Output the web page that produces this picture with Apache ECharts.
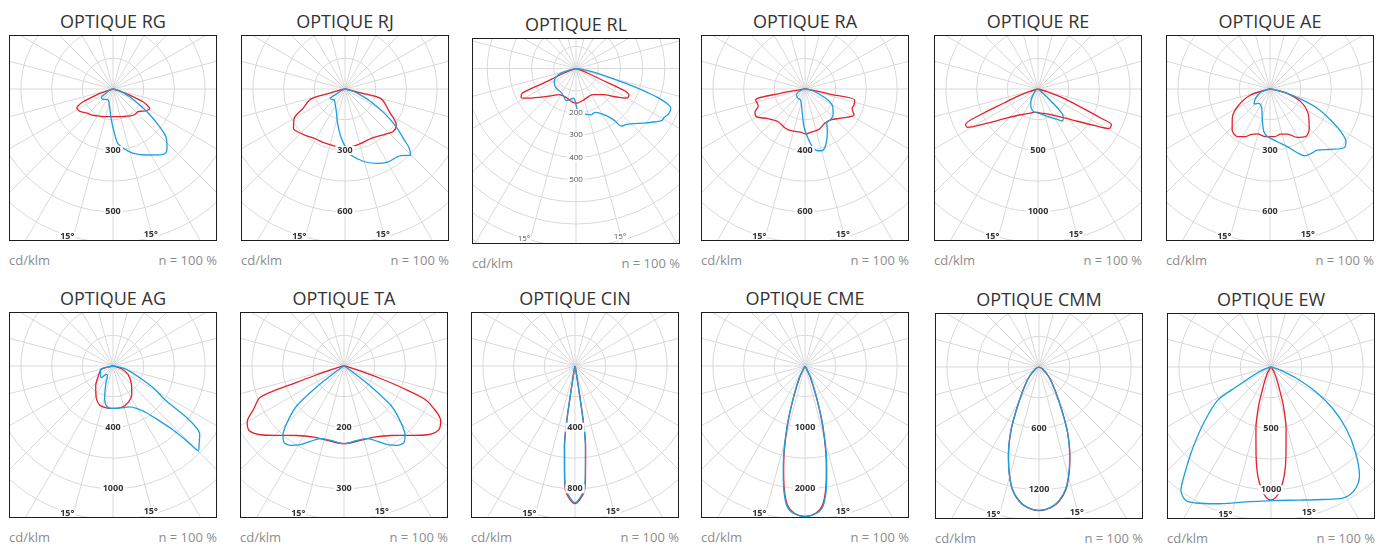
<!DOCTYPE html>
<html><head><meta charset="utf-8">
<script src="https://cdn.jsdelivr.net/npm/echarts@6.0.0/dist/echarts.min.js"></script>
<style>
html,body{margin:0;padding:0;background:#fff;}
body{width:1378px;height:544px;position:relative;overflow:hidden;font-family:'Open Sans','Noto Sans',sans-serif;}
.title{position:absolute;text-align:center;font-size:18px;color:#333;line-height:20px;white-space:nowrap;}
.box{position:absolute;border:1px solid #1e1e1e;box-sizing:border-box;}
.foot{position:absolute;font-size:13px;color:#8c8c8c;line-height:16px;white-space:nowrap;}
</style></head><body>
<script>
// ---------- DATA (angle in degrees from nadir, + = right ; intensity in cd/klm) ----------
const OPTICS = ['RG','RJ','RL','RA','RE','AE','AG','TA','CIN','CME','CMM','EW'];
const TITLE_PREFIX = 'OPTIQUE ';
const UNIT_TEXT = 'cd/klm';
const N_TEXT = 'n = 100 %';
const ANGLE_TEXT = '15°';

const RG_STEP = 150, RJ_STEP = 150, RL_STEP = 100, RA_STEP = 200, RE_STEP = 250, AE_STEP = 150;
const AG_STEP = 200, TA_STEP = 100, CIN_STEP = 200, CME_STEP = 500, CMM_STEP = 300, EW_STEP = 250;

const RG_TICKS  = ['', '', '300', '', '500', '', '', ''];
const RJ_TICKS  = ['', '', '300', '', '600', '', '', ''];
const RL_TICKS  = ['', '', '200', '300', '400', '500', '', '', '', '', ''];
const RA_TICKS  = ['', '', '400', '', '600', '', '', ''];
const RE_TICKS  = ['', '', '500', '', '1000', '', '', ''];
const AE_TICKS  = ['', '', '300', '', '600', '', '', ''];
const AG_TICKS  = ['', '', '400', '', '1000', '', '', ''];
const TA_TICKS  = ['', '', '200', '', '300', '', '', ''];
const CIN_TICKS = ['', '', '400', '', '800', '', '', ''];
const CME_TICKS = ['', '', '1000', '', '2000', '', '', ''];
const CMM_TICKS = ['', '', '600', '', '1200', '', '', ''];
const EW_TICKS  = ['', '', '500', '', '1000', '', '', ''];

const RG_RED = [[-90,0],[-75,15],[-72,45],[-70,90],[-67,159],[-64,192],[-62,200],[-58,198],[-56,195],[-50,180],[-46,171],[-40,165],[-35,158],[-26,147],[-15,140],[0,135],[15,140],[25,147],[32,155],[40,164],[48,165],[53,180],[57,195],[62,203],[65,180],[67,159],[70,87],[72,45],[75,15],[90,0]];
const RG_BLUE = [[-90,0],[-75,8],[-65,30],[-59,42],[-54,70],[-44,70],[-35,62],[-24,58],[-11,88],[-3,152],[2,218],[5,267],[10,294],[17,327],[27,362],[35,393],[40,404],[43,387],[48,347],[51,294],[55,221],[59,152],[65,90],[70,50],[76,33],[82,12],[90,0]];

const RJ_RED = [[-90,0],[-78,30],[-75,90],[-73.5,174],[-65,228],[-60,287],[-52.5,317],[-48,312],[-40,297],[-32,284],[-20,282],[-7,285],[0,285],[6,284],[15,278],[28,273],[40,292],[49,314],[55,306],[63,243],[75,182],[76.5,90],[78,30],[90,0]];
const RJ_BLUE = [[-90,0],[-70,15],[-60,50],[-57,86],[-50,80],[-44,75],[-35,85],[-23,111],[-12,173],[-5,234],[1,290],[5,324],[15,368],[24,398],[30,413],[40,425],[44.7,455],[47.3,428],[49.3,383],[53.6,311],[58.3,227],[64,141],[71,66],[78,25],[90,0]];

const RL_RED = [[-90,0],[-80,5],[-72,30],[-69,65],[-66,166],[-65.5,266],[-62.5,279],[-59.6,263],[-52,210],[-41,161],[-33,140],[-19,137],[-6,152],[1,156],[12,147],[33,140],[46,169],[55,223],[59.6,263],[63,268],[65.5,241],[66.5,120],[69,55],[72,25],[80,5],[90,0]];
const RL_BLUE = [[-90,0],[-82,15],[-76,45],[-70,89],[-58,116],[-46.5,125],[-32.7,126],[-22.4,139],[-17.5,151],[-10.5,142],[-5.2,134],[-1.8,144],[1,174],[5.2,201],[12.4,211],[18.2,219],[23.7,215],[28.4,229],[33.8,259],[36.6,292],[38.3,330],[42.1,339],[52.5,401],[58.7,452],[61,454],[63.9,464],[66.9,464],[68.4,453],[70.2,403],[71.6,335],[73.3,237],[75.7,141],[78.7,77],[84,30],[90,0]];

const RA_RED = [[-90,0],[-84,20],[-81,80],[-79.9,162],[-77.5,330],[-70,324],[-65,360],[-60,364],[-52,312],[-40,276],[-26,286],[-17,286],[-6,282],[1,294],[8,284],[19,278],[30,258],[40,262],[51,302],[62,362],[67.6,332],[72,336],[77.5,332],[78.5,172],[80,80],[84,20],[90,0]];
const RA_BLUE = [[-90,0],[-75,20],[-59,64],[-41.5,76],[-21.5,78],[-6.3,160],[-1.5,246],[2.8,312],[6.5,368],[10.8,408],[14.8,416],[18.4,406],[23,362],[27.6,314],[32.8,262],[38.9,260],[47.1,250],[57.4,214],[64.4,166],[70.3,96],[80,38],[90,0]];

const RE_RED = [[-90,0],[-73,75],[-70,188],[-67.6,300],[-65.9,513],[-63.7,658],[-61.5,655],[-56,498],[-47,345],[-34,253],[-17,205],[-6,190],[8,198],[31,250],[47,365],[57,545],[61,663],[64,665],[65.2,563],[67.1,378],[70.6,195],[74,75],[90,0]];
const RE_BLUE = [[-90,0],[-60,20],[-45,45],[-33.7,98],[-23.7,148],[-11.6,188],[2.4,198],[18.9,235],[30.5,283],[37.3,328],[42.1,308],[45.5,240],[47.2,148],[50,63],[55,10],[90,0]];

const AE_RED = [[-90,0],[-80,10],[-72.8,99],[-62,177],[-52,234],[-42.6,273],[-34,281],[-27,261],[-23,242],[-15.7,228],[-5.2,234],[4.8,234],[13.3,227],[21,236],[29.5,272],[36.8,291],[44.8,272],[57.4,221],[67.6,162],[76,87],[80,29],[86,5],[90,0]];
const AE_BLUE = [[-90,0],[-76,20],[-70.3,48],[-56.9,84],[-46.8,108],[-37.5,89],[-24.4,99],[-13.9,156],[-8,212],[-2.4,234],[7.9,260],[16.7,294],[23.2,339],[27.5,368],[32.7,374],[37.8,378],[45.2,419],[51.6,462],[55.2,452],[58.9,404],[62.9,333],[67.8,251],[71.9,158],[76.6,71],[82,20],[90,0]];

const AG_RED = [[-90,0],[-80,20],[-74,80],[-55.7,116],[-40.9,172],[-27.8,234],[-18.9,268],[-9.1,276],[0.9,276],[12.8,274],[22.2,258],[33.4,222],[45,170],[60.9,112],[72,58],[80,15],[90,0]];
const AG_BLUE = [[-90,0],[-80,30],[-75,84],[-55,100],[-45,108],[-38.7,70],[-30,72],[-21.8,128],[-14.7,214],[-9.5,264],[-1.4,276],[9,278],[22.1,288],[28.9,316],[35.5,374],[40.3,470],[43.2,572],[44.5,676],[45.2,784],[48.3,752],[51.7,720],[53.5,676],[55.4,554],[56.7,416],[61.6,296],[66.4,190],[76,90],[85,20],[90,0]];

const TA_RED = [[-90,0],[-80,10],[-74,40],[-72,100],[-71,161],[-69.6,290],[-64.6,325],[-60,364],[-56,374],[-50.5,352],[-42.4,306],[-34,273],[-23,252],[-12.6,248],[0,253],[12.6,248],[23,252],[34,273],[42.4,306],[50.5,352],[56,372],[60.5,362],[65,320],[67.8,282],[69.5,200],[71,130],[73,60],[80,10],[90,0]];
const TA_BLUE = [[-90,0],[-60,5],[-56,20],[-53,100],[-50,199],[-45.3,260],[-41.3,301],[-38.3,316],[-34,312],[-29,293],[-24,269],[-18,249],[-10,246],[0,253],[10,246],[18,249],[24,269],[29,293],[34,312],[38.3,316],[41.3,301],[45.3,260],[50,199],[53,100],[56,20],[60,5],[90,0]];

const CIN_RED = [[-90,0],[-20,4],[-12,22],[-9.5,84],[-9,205],[-8.5,372],[-7.5,528],[-5.6,702],[-4.4,812],[-2,872],[0,896],[2,872],[4.4,812],[5.6,702],[7.5,528],[8.5,372],[9,205],[9.5,84],[12,22],[20,4],[90,0]];
const CIN_BLUE = [[-90,0],[-20,4],[-12,20],[-9.5,80],[-9,200],[-8.5,368],[-7.5,520],[-5.6,692],[-4.4,800],[-2,862],[0,890],[2,862],[4.4,800],[5.6,692],[7.5,520],[8.5,368],[9,200],[9.5,80],[12,20],[20,4],[90,0]];

const CME_RED = [[-90,0],[-35,8],[-25,200],[-19.6,590],[-16.7,980],[-13.8,1410],[-11.6,1730],[-9.5,2040],[-7.2,2280],[-4.3,2400],[0,2450],[4.3,2400],[7.2,2280],[9.5,2040],[11.6,1730],[13.8,1410],[16.7,980],[19.6,590],[25,200],[35,8],[90,0]];
const CME_BLUE = [[-90,0],[-35,10],[-25.9,225],[-19.6,615],[-16.7,1005],[-13.8,1440],[-11.6,1760],[-9.5,2075],[-7.2,2310],[-4.3,2410],[0,2455],[4.3,2410],[7.2,2310],[9.5,2075],[11.6,1760],[13.8,1440],[16.7,1005],[19.6,615],[25.9,225],[35,10],[90,0]];

const CMM_RED = [[-90,0],[-63,34],[-45,134],[-33.7,290],[-27.4,490],[-23.6,688],[-19.1,910],[-15.9,1066],[-12.4,1220],[-8.5,1324],[-4.8,1378],[0,1404],[4.8,1380],[8.5,1328],[12.4,1226],[15.9,1075],[19.1,922],[23.6,698],[27.4,498],[33.7,296],[45,136],[63,34],[90,0]];
const CMM_BLUE = [[-90,0],[-63,36],[-45,138],[-33.7,294],[-27.4,495],[-23.6,693],[-19.1,915],[-15.9,1068],[-12.4,1218],[-8.5,1320],[-4.8,1374],[0,1401],[4.8,1374],[8.5,1320],[12.4,1218],[15.9,1068],[19.1,915],[23.6,693],[27.4,495],[33.7,294],[45,138],[63,36],[90,0]];

const EW_RED = [[-90,0],[-40,12],[-30,60],[-24,125],[-21,190],[-17.8,328],[-13.7,518],[-9.6,730],[-7,890],[-4.2,1008],[-2.2,1060],[0,1085],[2.2,1060],[4.2,1008],[7,890],[9.6,730],[13.7,518],[17.8,328],[21,190],[24,125],[30,60],[40,12],[90,0]];
const EW_BLUE = [[-90,0],[-78,20],[-71.6,60],[-66,135],[-60.3,328],[-58,513],[-50.5,705],[-43.8,923],[-38.7,1130],[-36.1,1245],[-32.5,1290],[-28.9,1265],[-21.9,1200],[-11.9,1125],[0,1088],[12,1108],[21.3,1158],[28.7,1218],[34,1213],[39.2,1140],[44.8,975],[50.6,793],[56,608],[60.9,420],[66.3,223],[71.6,85],[78,20],[90,0]];

// ---------- ASSEMBLY ----------
const SERIES_RED = [RG_RED,RJ_RED,RL_RED,RA_RED,RE_RED,AE_RED,AG_RED,TA_RED,CIN_RED,CME_RED,CMM_RED,EW_RED];
const SERIES_BLUE = [RG_BLUE,RJ_BLUE,RL_BLUE,RA_BLUE,RE_BLUE,AE_BLUE,AG_BLUE,TA_BLUE,CIN_BLUE,CME_BLUE,CMM_BLUE,EW_BLUE];
const STEPS = [RG_STEP,RJ_STEP,RL_STEP,RA_STEP,RE_STEP,AE_STEP,AG_STEP,TA_STEP,CIN_STEP,CME_STEP,CMM_STEP,EW_STEP];
const TICKS = [RG_TICKS,RJ_TICKS,RL_TICKS,RA_TICKS,RE_TICKS,AE_TICKS,AG_TICKS,TA_TICKS,CIN_TICKS,CME_TICKS,CMM_TICKS,EW_TICKS];

// ---------- LAYOUT / STYLE ----------
const BOX_W = 208, BOX_H = 206;
const LAYOUT = [
  {x:9,y:35},{x:241,y:35},{x:472,y:38,dense:true},{x:701,y:35},{x:934,y:35},{x:1166,y:35},
  {x:9,y:312},{x:240,y:312},{x:471,y:312},{x:701,y:312},{x:935,y:313},{x:1167,y:313}
];
const STD = {cy:54, sp:30.7, n:7, labR:146, fs:9, fw:'bold', fc:'#333'};
const DENSE = {cy:30.6, sp:22.2, n:10, labR:170, fs:8, fw:'normal', fc:'#555'};
const GRID = '#d9d9d9', RED = '#e4202a', BLUE = '#1b9fe0';
const FONT = "'Open Sans','Noto Sans',sans-serif";

function toPolar(arr){ return arr.map(p => [p[1], p[0] < 0 ? p[0] + 360 : p[0]]); }

OPTICS.forEach((name, i) => {
  const L = LAYOUT[i];
  const G = L.dense ? DENSE : STD;
  const step = STEPS[i], ticks = TICKS[i];

  const t = document.createElement('div');
  t.className = 'title';
  t.style.left = L.x + 'px'; t.style.width = BOX_W + 'px';
  t.style.top = (L.y - 14.5 - 10) + 'px';
  t.textContent = TITLE_PREFIX + name;
  document.body.appendChild(t);

  const b = document.createElement('div');
  b.className = 'box';
  b.style.left = L.x + 'px'; b.style.top = L.y + 'px';
  b.style.width = BOX_W + 'px'; b.style.height = BOX_H + 'px';
  document.body.appendChild(b);

  const f1 = document.createElement('div');
  f1.className = 'foot'; f1.textContent = UNIT_TEXT;
  f1.style.left = L.x + 'px'; f1.style.top = (L.y + BOX_H + 19 - 8) + 'px';
  document.body.appendChild(f1);
  const f2 = document.createElement('div');
  f2.className = 'foot'; f2.textContent = N_TEXT;
  f2.style.left = L.x + 'px'; f2.style.width = BOX_W + 'px'; f2.style.textAlign = 'right';
  f2.style.top = (L.y + BOX_H + 19 - 8) + 'px';
  document.body.appendChild(f2);

  const chart = echarts.init(b, null, {renderer:'canvas'});
  const R = G.n * G.sp;
  const center = [BOX_W / 2 - 1, G.cy - 1];
  const rmax = G.n * step;
  const option = {
    animation: false,
    textStyle: {fontFamily: FONT},
    polar: [{center: center, radius: R}, {center: center, radius: R}],
    angleAxis: [
      {polarIndex:0, type:'value', min:0, max:360, interval:15, startAngle:270, clockwise:false, z:0,
       axisLine:{show:false}, axisTick:{show:false}, axisLabel:{show:false},
       splitLine:{show:true, lineStyle:{color:GRID, width:1}}},
      {polarIndex:1, type:'value', min:0, max:360, interval:15, startAngle:270, clockwise:false, z:10,
       axisLine:{show:false}, axisTick:{show:false}, splitLine:{show:false},
       axisLabel:{show:true, margin: G.labR - R,
         formatter: v => v === 15 ? '{t|' + ANGLE_TEXT + '}' : (v === 345 ? '{t|' + ANGLE_TEXT + '}{g|}' : ''),
         rich:{t:{fontSize:G.fs, fontWeight:G.fw, color:G.fc, backgroundColor:'#fff', padding:[0,1,0,1], fontFamily:FONT},
               g:{width:16}}}}
    ],
    radiusAxis: [
      {polarIndex:0, type:'value', min:0, max:rmax, interval:step, z:0,
       axisLine:{show:false}, axisTick:{show:false}, axisLabel:{show:false},
       splitLine:{show:true, lineStyle:{color:GRID, width:1}}},
      {polarIndex:1, type:'value', min:0, max:rmax, interval:step, z:10,
       axisLine:{show:false}, axisTick:{show:false}, splitLine:{show:false},
       axisLabel:{show:true, margin:0, align:'center', verticalAlign:'middle',
         formatter: v => { const s = ticks[Math.round(v / step)]; return s ? '{b|' + s + '}' : ''; },
         rich:{b:{fontSize:G.fs, fontWeight:G.fw, color:G.fc, backgroundColor:'#fff', padding:[0,2,0,2], lineHeight:10, fontFamily:FONT}}}}
    ],
    series: [
      {type:'line', coordinateSystem:'polar', polarIndex:0, data: toPolar(SERIES_RED[i]),
       symbol:'none', showSymbol:false, smooth:0.3, silent:true, z:3,
       lineStyle:{color:RED, width:1.3}},
      {type:'line', coordinateSystem:'polar', polarIndex:0, data: toPolar(SERIES_BLUE[i]),
       symbol:'none', showSymbol:false, smooth:0.3, silent:true, z:4,
       lineStyle:{color:BLUE, width:1.3}}
    ]
  };
  chart.setOption(option);
});
</script>
</body></html>
